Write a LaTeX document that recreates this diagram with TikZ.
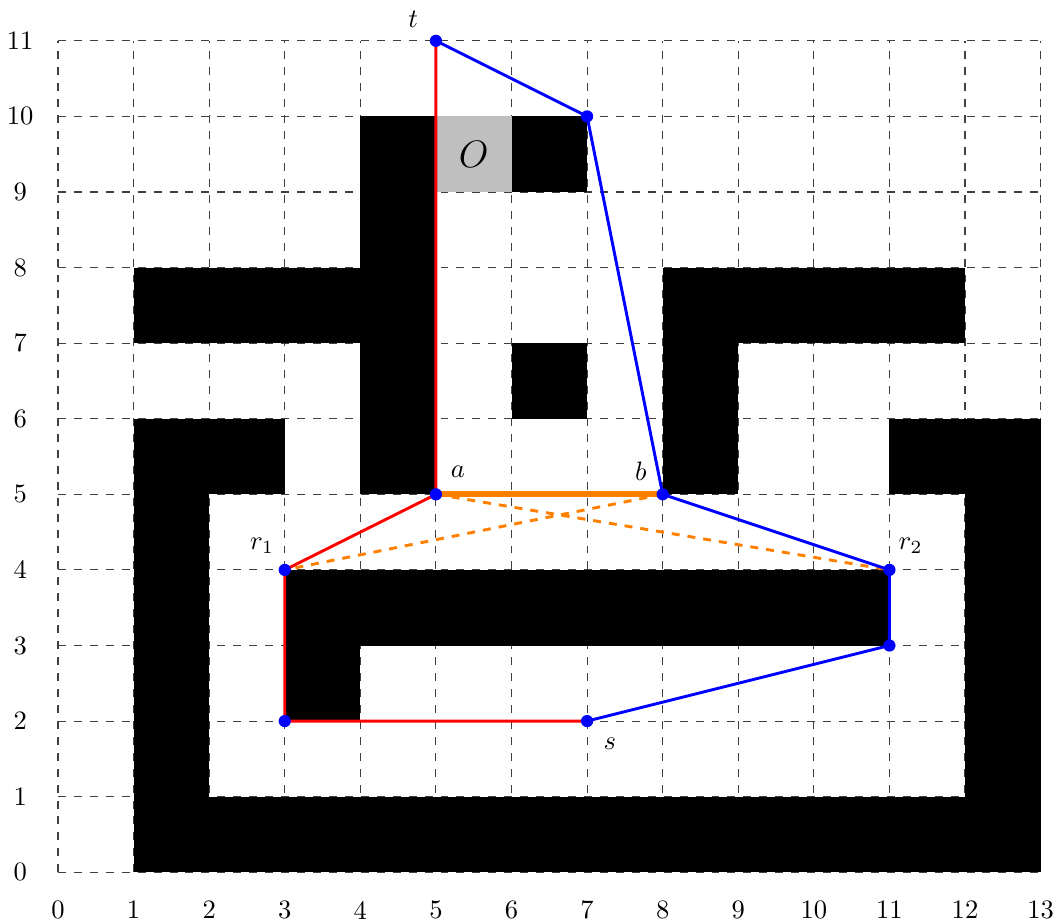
\documentclass[tikz,border=0pt]{standalone}
\begin{document}
\begin{tikzpicture}[x=1cm,y=1cm,
  obst/.style={fill=black,draw=none},
  gridln/.style={dashed,black!75,line width=0.4pt},
  redpath/.style={red,line width=1.1pt},
  bluepath/.style={blue,line width=1.1pt},
  orangeline/.style={orange,line width=2.2pt},
  orangedash/.style={orange,dashed,line width=1.1pt},
  vtx/.style={circle,fill=blue,inner sep=0pt,minimum size=4.6pt},
  lbl/.style={inner sep=1pt}]
\useasboundingbox (-0.767,-0.675) rectangle (13.23,11.54);
% grid
\draw[gridln] (0,0) grid (13,11);
% obstacles
\fill[obst] (4,5) rectangle (5,10);
\fill[obst] (6,9) rectangle (7,10);
\fill[obst] (1,7) rectangle (4,8);
\fill[obst] (6,6) rectangle (7,7);
\fill[obst] (8,7) rectangle (12,8);
\fill[obst] (8,5) rectangle (9,7);
\fill[obst] (1,5) rectangle (3,6);
\fill[obst] (1,0) rectangle (2,5);
\fill[obst] (2,0) rectangle (13,1);
\fill[obst] (12,1) rectangle (13,5);
\fill[obst] (11,5) rectangle (13,6);
\fill[obst] (3,3) rectangle (11,4);
\fill[obst] (3,2) rectangle (4,3);
\fill[black!25] (5,9) rectangle (6,10);
\node[font=\Large] (O) at (5.5,9.5) {$O$};
% axis labels
\foreach \i in {0,...,13} \node (x\i) at (\i,-0.5) {\i};
\foreach \j in {0,...,11} \node (y\j) at (-0.5,\j) {\j};
% vertices
\coordinate (t) at (5,11);
\coordinate (p1) at (7,10);
\coordinate (a) at (5,5);
\coordinate (b) at (8,5);
\coordinate (r1) at (3,4);
\coordinate (r2) at (11,4);
\coordinate (p2) at (11,3);
\coordinate (s) at (7,2);
\coordinate (p3) at (3,2);
% paths
\draw[orangedash] (a) -- (r2);
\draw[orangedash] (b) -- (r1);
\draw[orangeline] (a) -- (b);
\draw[redpath] (t) -- (a) -- (r1) -- (p3) -- (s);
\draw[bluepath] (t) -- (p1) -- (b) -- (r2) -- (p2) -- (s);
\foreach \v in {t,p1,a,b,r1,r2,p2,s,p3} \node[vtx] (d\v) at (\v) {};
% labels
\node[lbl] (lt) at (4.7,11.29) {$t$};
\node[lbl] (la) at (5.29,5.3) {$a$};
\node[lbl] (lb) at (7.71,5.3) {$b$};
\node[lbl] (lr1) at (2.7,4.32) {$r_1$};
\node[lbl] (lr2) at (11.28,4.32) {$r_2$};
\node[lbl] (ls) at (7.3,1.7) {$s$};
\end{tikzpicture}
\end{document}
